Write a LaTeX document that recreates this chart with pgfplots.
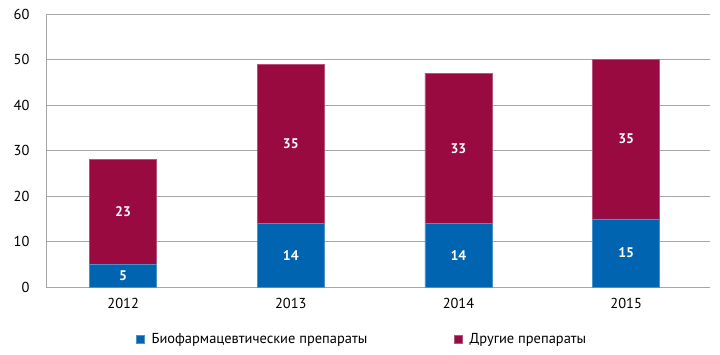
\documentclass[border=0pt]{standalone}
\usepackage{pgfplots}
\pgfplotsset{compat=1.18}
\usepackage{fontspec}
\setmainfont{PT Sans}
\definecolor{cblue}{HTML}{0064B0}
\definecolor{cred}{HTML}{990A40}
\definecolor{cgrid}{HTML}{A6A6A6}
\pgfplotsset{common/.style={
  at={(46bp,67bp)}, anchor=south west,
  scale only axis, width=664bp, height=273bp,
  xmin=-0.46, xmax=3.5, ymin=0, ymax=60}}
\begin{document}
\begin{tikzpicture}[x=1bp,y=1bp]
\path[use as bounding box] (0,0) rectangle (720,354);
\begin{axis}[
  common,
  ybar stacked, bar width=67bp,
  xtick={0,1,2,3}, xticklabels={2012,2013,2014,2015},
  ytick={0,10,...,60},
  axis x line*=bottom, axis y line*=left,
  x axis line style={draw=cgrid},
  y axis line style={draw=cgrid},
  ymajorgrids, grid style={cgrid, line width=0.8pt},
  major tick length=0pt,
  xtick style={draw=none},
  ytick style={draw=none},
  tick label style={font=\fontsize{14.5}{16}\selectfont, text=black},
  /pgf/number format/assume math mode=true,
  yticklabel style={xshift=-13bp},
  xticklabel style={yshift=-8bp},
  extra y ticks={0,10,...,60}, extra y tick labels={},
  extra y tick style={grid=none, major tick length=5bp, tick style={draw=cgrid, line width=0.8pt}},
  legend style={at={(0.131,-0.155)}, anchor=north west, draw=none, legend columns=2,
    font=\fontsize{14.5}{16}\selectfont,
    /tikz/every odd column/.append style={column sep=5bp},
    /tikz/every even column/.append style={column sep=85bp}},
  legend image code/.code={\fill[#1] (0bp,-4bp) rectangle (8bp,4bp);},
]
\addplot[fill=cblue, draw=cblue!70!white] coordinates {(0,5) (1,14) (2,14) (3,15)};
\addplot[fill=cred, draw=cred!70!white] coordinates {(0,23) (1,35) (2,33) (3,35)};
\legend{Биофармацевтические препараты, Другие препараты}
\end{axis}
\begin{axis}[common, hide axis,
  nodes near coords, point meta=explicit symbolic,
  every node near coord/.append style={anchor=center, text=white, font=\fontsize{14}{16}\selectfont\bfseries}]
\addplot[draw=none, mark=none, only marks] table[meta=lab] {
x y lab
0 2.5 5
1 7 14
2 7 14
3 7.5 15
0 16.5 23
1 31.5 35
2 30.5 33
3 32.5 35
};
\end{axis}
\end{tikzpicture}
\end{document}
